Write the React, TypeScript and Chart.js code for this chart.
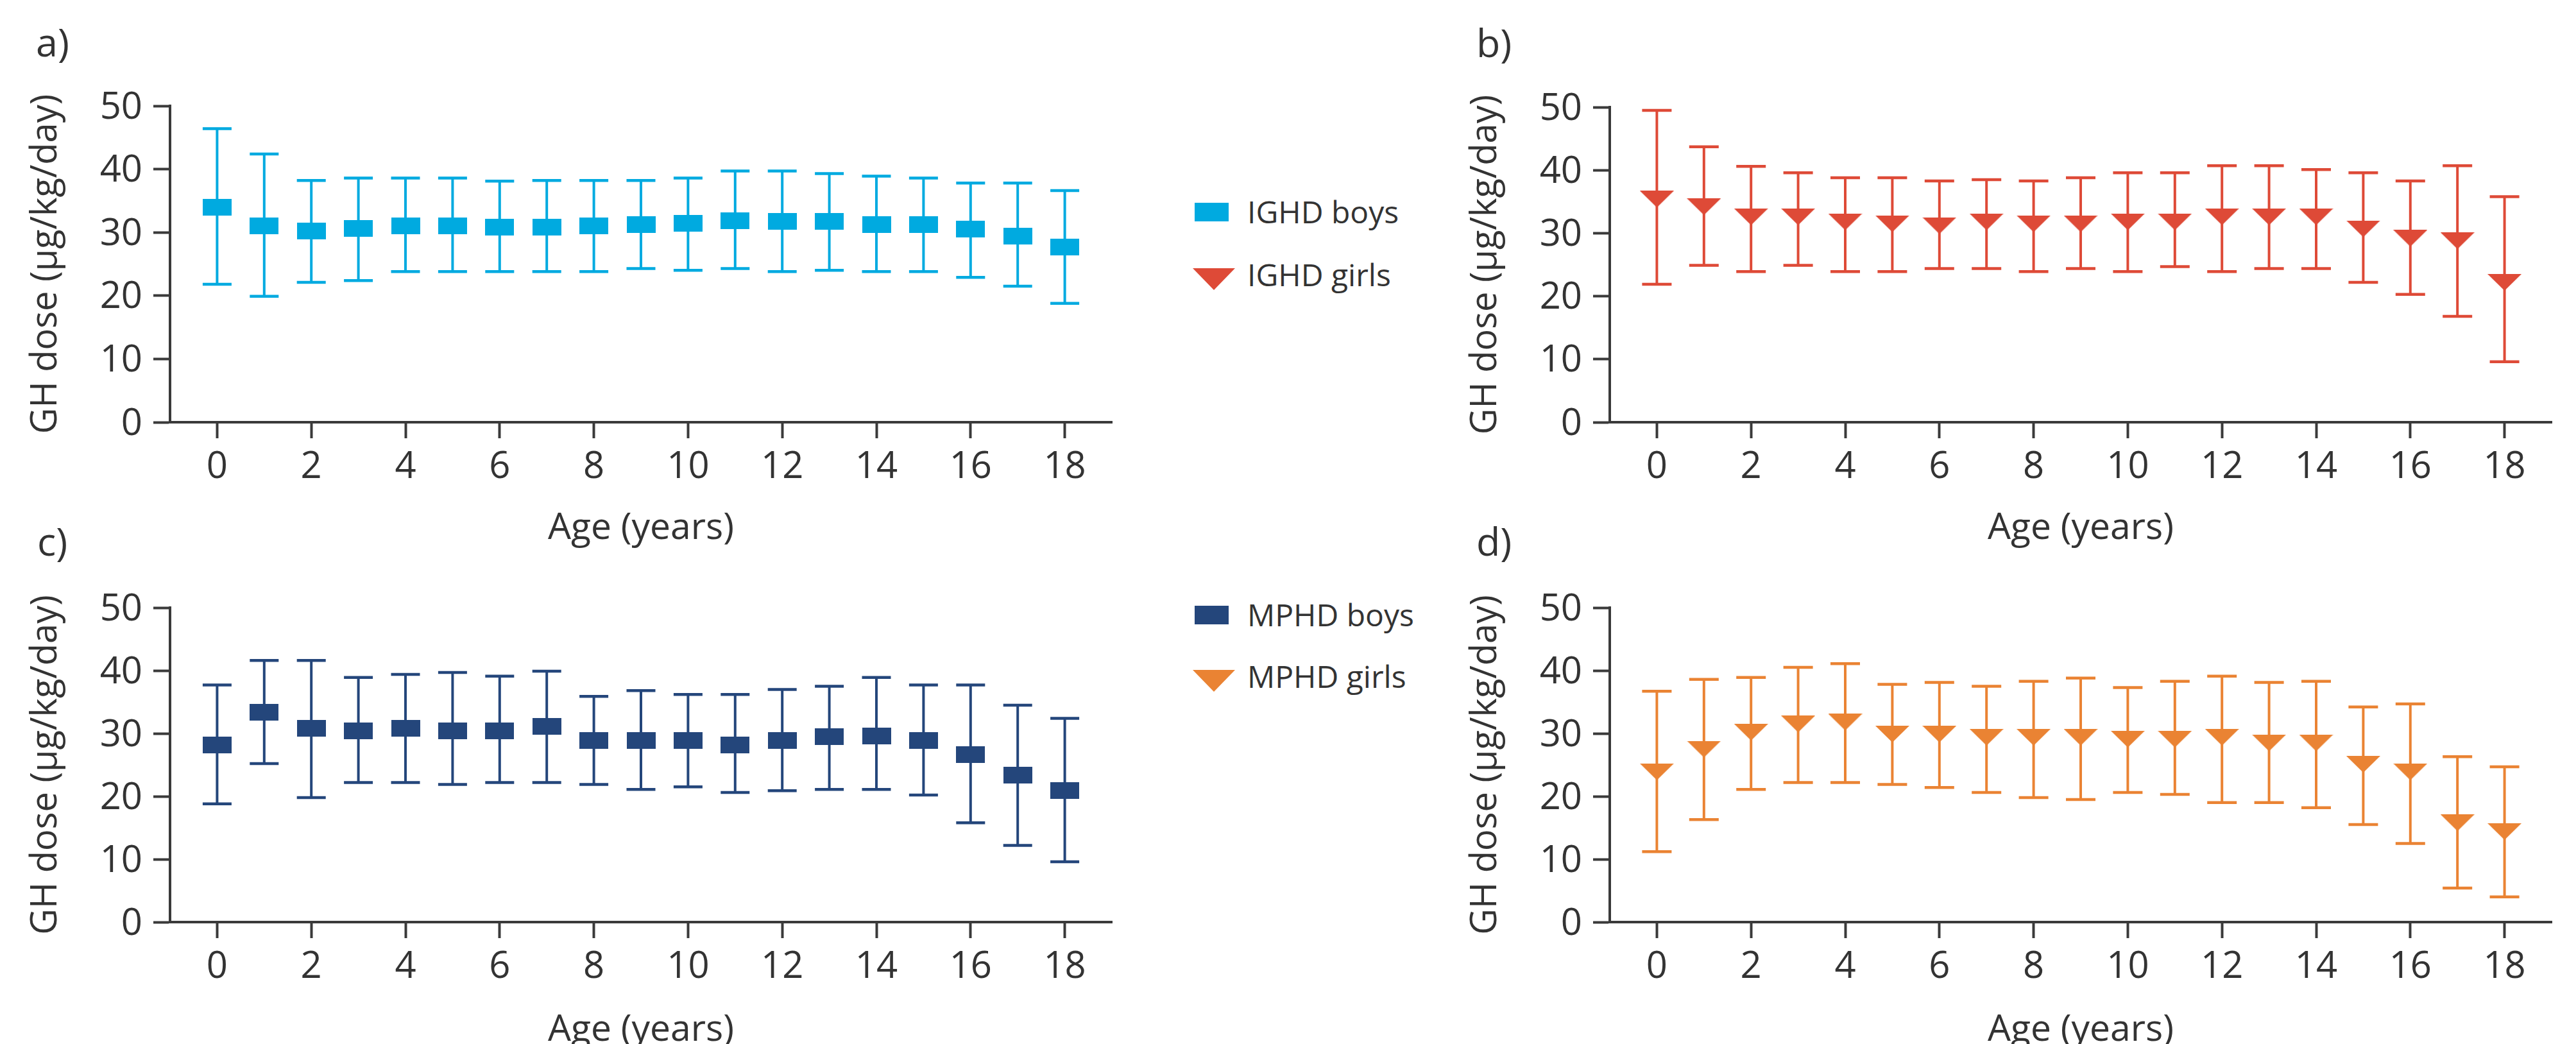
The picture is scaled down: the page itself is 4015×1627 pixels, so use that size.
import React, { useEffect, useRef } from "react";
import { Chart, registerables } from "chart.js";

Chart.register(...registerables);

// ---------- data ----------
const ages = [0, 1, 2, 3, 4, 5, 6, 7, 8, 9, 10, 11, 12, 13, 14, 15, 16, 17, 18];
const xTickValues = [0, 2, 4, 6, 8, 10, 12, 14, 16, 18];
const yTickValues = [0, 10, 20, 30, 40, 50];

const ighdBoysMean = [34.0, 31.0, 30.2, 30.6, 31.0, 31.0, 30.8, 30.8, 31.0, 31.2, 31.4, 31.8, 31.7, 31.7, 31.2, 31.2, 30.5, 29.4, 27.7];
const ighdBoysHigh = [46.4, 42.4, 38.2, 38.6, 38.6, 38.6, 38.1, 38.2, 38.2, 38.2, 38.6, 39.7, 39.7, 39.3, 38.9, 38.6, 37.8, 37.8, 36.6];
const ighdBoysLow = [21.8, 19.9, 22.1, 22.4, 23.8, 23.8, 23.8, 23.8, 23.8, 24.3, 24.0, 24.3, 23.8, 24.0, 23.8, 23.8, 22.9, 21.5, 18.8];

const ighdGirlsMean = [35.4, 34.2, 32.6, 32.6, 31.8, 31.5, 31.2, 31.8, 31.5, 31.5, 31.8, 31.8, 32.6, 32.6, 32.6, 30.7, 29.2, 28.8, 22.2];
const ighdGirlsHigh = [49.5, 43.7, 40.6, 39.6, 38.8, 38.8, 38.3, 38.5, 38.3, 38.8, 39.6, 39.6, 40.7, 40.7, 40.1, 39.6, 38.3, 40.7, 35.8];
const ighdGirlsLow = [21.9, 24.9, 23.9, 24.9, 23.9, 23.9, 24.4, 24.4, 23.9, 24.4, 23.9, 24.7, 23.9, 24.4, 24.4, 22.2, 20.3, 16.8, 9.6];

const mphdBoysMean = [28.2, 33.4, 30.8, 30.4, 30.8, 30.4, 30.4, 31.1, 28.9, 28.9, 28.9, 28.2, 28.9, 29.5, 29.6, 28.9, 26.6, 23.4, 20.9];
const mphdBoysHigh = [37.7, 41.6, 41.6, 38.9, 39.4, 39.7, 39.1, 39.9, 35.9, 36.8, 36.2, 36.2, 37.0, 37.5, 38.9, 37.7, 37.7, 34.5, 32.4];
const mphdBoysLow = [18.8, 25.2, 19.8, 22.2, 22.2, 21.9, 22.2, 22.2, 21.9, 21.1, 21.5, 20.6, 20.9, 21.1, 21.1, 20.2, 15.8, 12.2, 9.6];

const mphdGirlsMean = [23.9, 27.5, 30.2, 31.5, 31.8, 29.9, 29.9, 29.4, 29.4, 29.4, 29.1, 29.1, 29.4, 28.5, 28.5, 25.1, 23.9, 15.8, 14.4];
const mphdGirlsHigh = [36.7, 38.6, 38.9, 40.5, 41.1, 37.8, 38.1, 37.5, 38.3, 38.8, 37.3, 38.3, 39.1, 38.1, 38.3, 34.2, 34.7, 26.3, 24.7];
const mphdGirlsLow = [11.2, 16.3, 21.1, 22.2, 22.2, 21.9, 21.4, 20.6, 19.8, 19.5, 20.6, 20.3, 19.0, 19.0, 18.2, 15.5, 12.5, 5.4, 4.0];

const xTitle = "Age (years)";
const yTitle = "GH dose (μg/kg/day)";

// ---------- styles ----------
const FONT = "'Open Sans', sans-serif";
const AXIS = "#3a3a3a";
const TEXT = "#333333";
const C_IGHD_BOYS = "#00aae0";
const C_IGHD_GIRLS = "#de4a37";
const C_MPHD_BOYS = "#24467b";
const C_MPHD_GIRLS = "#ea8333";

const CANVAS_W = 1760;
const CANVAS_H = 880;

function makeMarker(kind: string, color: string) {
  const c = document.createElement("canvas");
  const ctx = c.getContext("2d")!;
  if (kind === "rect") {
    c.width = 45;
    c.height = 26;
    ctx.fillStyle = color;
    ctx.fillRect(0, 0, 45, 26);
  } else {
    c.width = 53;
    c.height = 26;
    ctx.fillStyle = color;
    ctx.beginPath();
    ctx.moveTo(0, 0);
    ctx.lineTo(53, 0);
    ctx.lineTo(26.5, 26);
    ctx.closePath();
    ctx.fill();
  }
  return c;
}

function makeErrorBarPlugin(lows: number[], highs: number[], color: string, capW: number) {
  return {
    id: "errorBars",
    beforeDatasetsDraw(chart: any) {
      const { ctx, scales } = chart;
      const x = scales.x;
      const y = scales.y;
      ctx.save();
      ctx.strokeStyle = color;
      ctx.lineCap = "butt";
      ages.forEach((a, i) => {
        const px = x.getPixelForValue(a);
        const yl = y.getPixelForValue(lows[i]);
        const yh = y.getPixelForValue(highs[i]);
        ctx.lineWidth = 4;
        ctx.beginPath();
        ctx.moveTo(px, yl);
        ctx.lineTo(px, yh);
        ctx.stroke();
        ctx.lineWidth = 4.5;
        ctx.beginPath();
        ctx.moveTo(px - capW / 2, yl);
        ctx.lineTo(px + capW / 2, yl);
        ctx.moveTo(px - capW / 2, yh);
        ctx.lineTo(px + capW / 2, yh);
        ctx.stroke();
      });
      ctx.restore();
    },
  };
}

type PanelProps = {
  canvasLeft: number;
  canvasTop: number;
  chartLeft: number;
  chartRight: number;
  chartTop: number;
  chartBottom: number;
  means: number[];
  lows: number[];
  highs: number[];
  color: string;
  kind: string;
  capW: number;
};

function Panel(p: PanelProps) {
  const ref = useRef<HTMLCanvasElement>(null);
  useEffect(() => {
    if (!ref.current) return;
    const marker = makeMarker(p.kind, p.color);
    const chart = new Chart(ref.current, {
      type: "scatter",
      data: {
        datasets: [
          {
            data: ages.map((a, i) => ({ x: a, y: p.means[i] })),
            pointStyle: marker as any,
            pointRadius: 10,
            pointHoverRadius: 10,
            showLine: false,
            backgroundColor: p.color,
            borderColor: p.color,
          },
        ],
      },
      options: {
        responsive: false,
        animation: false,
        devicePixelRatio: 1,
        events: [],
        layout: {
          padding: {
            top: p.chartTop - p.canvasTop,
            left: 0,
            right: CANVAS_W - (p.chartRight - p.canvasLeft),
            bottom: 0,
          },
        },
        plugins: {
          legend: { display: false },
          tooltip: { enabled: false },
          title: { display: false },
        },
        scales: {
          x: {
            type: "linear",
            min: -1,
            max: 19,
            afterBuildTicks: (s: any) => {
              s.ticks = xTickValues.map((v) => ({ value: v }));
            },
            afterFit: (s: any) => {
              s.height = p.canvasTop + CANVAS_H - p.chartBottom;
            },
            grid: {
              drawOnChartArea: false,
              drawTicks: true,
              tickLength: 25,
              tickWidth: 4,
              tickColor: AXIS,
            },
            border: { display: true, color: AXIS, width: 4 },
            ticks: {
              font: { family: FONT, size: 58 },
              color: TEXT,
              padding: 11,
              maxRotation: 0,
              autoSkip: false,
            },
            title: {
              display: true,
              text: xTitle,
              font: { family: FONT, size: 57 },
              color: TEXT,
              padding: { top: 0, bottom: 22 },
            },
          },
          y: {
            type: "linear",
            min: 0,
            max: 50,
            afterBuildTicks: (s: any) => {
              s.ticks = yTickValues.map((v) => ({ value: v }));
            },
            afterFit: (s: any) => {
              s.width = p.chartLeft - p.canvasLeft;
            },
            grid: {
              drawOnChartArea: false,
              drawTicks: true,
              tickLength: 26,
              tickWidth: 4,
              tickColor: AXIS,
            },
            border: { display: true, color: AXIS, width: 4 },
            ticks: {
              font: { family: FONT, size: 58 },
              color: TEXT,
              padding: 17,
              labelOffset: 3,
            },
            title: {
              display: true,
              text: yTitle,
              font: { family: FONT, size: 56 },
              color: TEXT,
              padding: { top: 38, bottom: 0 },
            },
          },
        },
      },
      plugins: [makeErrorBarPlugin(p.lows, p.highs, p.color, p.capW)],
    } as any);
    return () => chart.destroy();
  }, []);
  return (
    <canvas
      ref={ref}
      width={CANVAS_W}
      height={CANVAS_H}
      style={{
        position: "absolute",
        left: p.canvasLeft,
        top: p.canvasTop,
        width: CANVAS_W,
        height: CANVAS_H,
      }}
    />
  );
}

function PanelLabel({ text, left, baseline }: { text: string; left: number; baseline: number }) {
  const size = 61;
  const lh = 61;
  const top = baseline - (lh / 2 + 0.388 * size);
  return (
    <div
      style={{
        position: "absolute",
        left,
        top,
        height: lh,
        lineHeight: lh + "px",
        fontFamily: FONT,
        fontSize: size,
        color: TEXT,
        whiteSpace: "nowrap",
      }}
    >
      {text}
    </div>
  );
}

function LegendItem({ kind, color, text, capCenter }: { kind: string; color: string; text: string; capCenter: number }) {
  const size = 48;
  const lh = 48;
  const textTop = capCenter - (lh / 2 + 0.031 * size);
  return (
    <>
      {kind === "rect" ? (
        <div
          style={{
            position: "absolute",
            left: 1862,
            top: capCenter - 15,
            width: 53,
            height: 29,
            background: color,
          }}
        />
      ) : (
        <div
          style={{
            position: "absolute",
            left: 1859,
            top: capCenter - 11,
            width: 0,
            height: 0,
            borderLeft: "33.5px solid transparent",
            borderRight: "33.5px solid transparent",
            borderTop: `34px solid ${color}`,
          }}
        />
      )}
      <div
        style={{
          position: "absolute",
          left: 1944,
          top: textTop,
          height: lh,
          lineHeight: lh + "px",
          fontFamily: FONT,
          fontSize: size,
          color: TEXT,
          whiteSpace: "nowrap",
        }}
      >
        {text}
      </div>
    </>
  );
}

export default function App() {
  return (
    <div
      style={{
        position: "fixed",
        left: 0,
        top: 0,
        width: 4015,
        height: 1627,
        overflow: "hidden",
        background: "#ffffff",
      }}
    >
      <Panel
        canvasLeft={0}
        canvasTop={0}
        chartLeft={265}
        chartRight={1733}
        chartTop={165}
        chartBottom={658}
        means={ighdBoysMean}
        lows={ighdBoysLow}
        highs={ighdBoysHigh}
        color={C_IGHD_BOYS}
        kind="rect"
        capW={45}
      />
      <Panel
        canvasLeft={2244}
        canvasTop={0}
        chartLeft={2509}
        chartRight={3977}
        chartTop={167}
        chartBottom={658}
        means={ighdGirlsMean}
        lows={ighdGirlsLow}
        highs={ighdGirlsHigh}
        color={C_IGHD_GIRLS}
        kind="tri"
        capW={46}
      />
      <Panel
        canvasLeft={0}
        canvasTop={782}
        chartLeft={265}
        chartRight={1733}
        chartTop={947}
        chartBottom={1437}
        means={mphdBoysMean}
        lows={mphdBoysLow}
        highs={mphdBoysHigh}
        color={C_MPHD_BOYS}
        kind="rect"
        capW={45}
      />
      <Panel
        canvasLeft={2244}
        canvasTop={782}
        chartLeft={2509}
        chartRight={3977}
        chartTop={947}
        chartBottom={1437}
        means={mphdGirlsMean}
        lows={mphdGirlsLow}
        highs={mphdGirlsHigh}
        color={C_MPHD_GIRLS}
        kind="tri"
        capW={46}
      />
      <PanelLabel text="a)" left={56} baseline={88} />
      <PanelLabel text="b)" left={2301} baseline={89} />
      <PanelLabel text="c)" left={58} baseline={866} />
      <PanelLabel text="d)" left={2301} baseline={866} />
      <LegendItem kind="rect" color={C_IGHD_BOYS} text="IGHD boys" capCenter={331} />
      <LegendItem kind="tri" color={C_IGHD_GIRLS} text="IGHD girls" capCenter={429} />
      <LegendItem kind="rect" color={C_MPHD_BOYS} text="MPHD boys" capCenter={959} />
      <LegendItem kind="tri" color={C_MPHD_GIRLS} text="MPHD girls" capCenter={1055} />
    </div>
  );
}
